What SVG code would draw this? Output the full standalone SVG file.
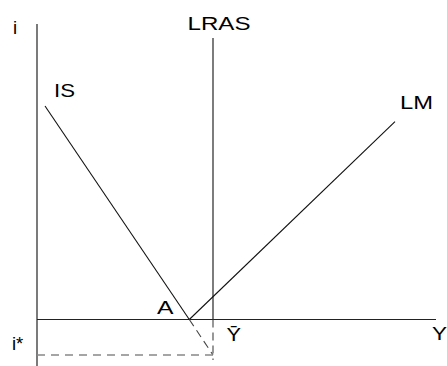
<svg xmlns="http://www.w3.org/2000/svg" width="447" height="366" viewBox="0 0 447 366">
<style>
.ax{stroke:#222;stroke-width:1.2;fill:none}
.ln{stroke:#111;stroke-width:1.1;fill:none}
.ds{stroke:#444;stroke-width:1.1;fill:none;stroke-dasharray:8,5}
.dg{stroke:#888;stroke-width:1.5;fill:none;stroke-dasharray:8,6}
text{font-family:"Liberation Sans",Arial,sans-serif;font-size:18.5px;fill:#000}
</style>
<rect width="447" height="366" fill="#fff"/>
<g id="axes">
<line class="ax" x1="37" y1="24" x2="37" y2="366"/>
<line class="ax" x1="37" y1="319.5" x2="436" y2="319.5"/>
<text x="13" y="34">i</text>
<text x="12" y="350">i*</text>
<text x="432" y="340" textLength="15" lengthAdjust="spacingAndGlyphs">Y</text>
</g>
<g id="LRAS">
<line class="ln" x1="213" y1="38" x2="213" y2="319.5"/>
<text x="187.5" y="30" textLength="63" lengthAdjust="spacingAndGlyphs">LRAS</text>
</g>
<g id="IS">
<line class="ln" x1="45" y1="106" x2="189.3" y2="319.5"/>
<text x="54" y="97" textLength="21" lengthAdjust="spacingAndGlyphs">IS</text>
</g>
<g id="LM">
<line class="ln" x1="189.3" y1="319.5" x2="395" y2="121.7"/>
<text x="400" y="108.5" textLength="33" lengthAdjust="spacingAndGlyphs">LM</text>
</g>
<g id="A">
<text x="157" y="313.5" textLength="16.5" lengthAdjust="spacingAndGlyphs">A</text>
</g>
<g id="Ybar">
<text x="226.5" y="341" textLength="14.5" lengthAdjust="spacingAndGlyphs">Ȳ</text>
</g>
<g id="connectors">
<line class="ds" x1="213" y1="319.5" x2="213" y2="360"/>
<line class="ds" x1="189.3" y1="319.5" x2="213" y2="355"/>
<line class="dg" x1="37" y1="355" x2="213" y2="355"/>
</g>
</svg>
